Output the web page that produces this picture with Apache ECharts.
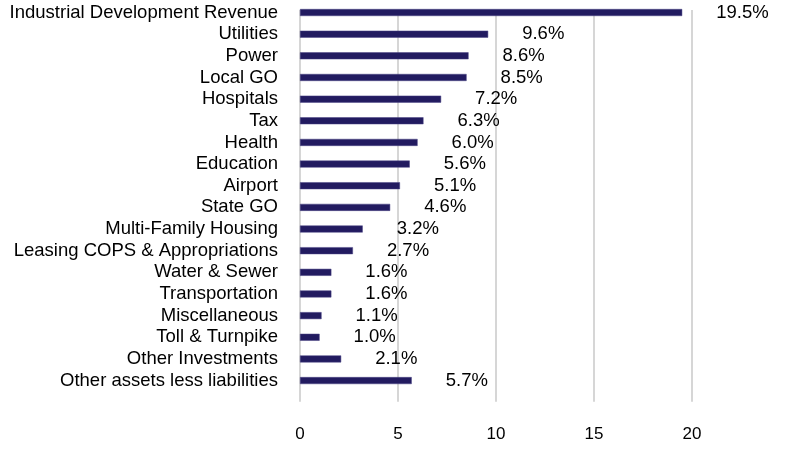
<!DOCTYPE html>
<html>
<head>
<meta charset="utf-8">
<script src="https://cdn.jsdelivr.net/npm/echarts@6/dist/echarts.min.js"></script>
<style>
html,body{margin:0;padding:0;background:#fff;}
#chart{width:804px;height:466px;}
</style>
</head>
<body>
<div id="chart"></div>
<script>
const categories = [
  "Industrial Development Revenue",
  "Utilities",
  "Power",
  "Local GO",
  "Hospitals",
  "Tax",
  "Health",
  "Education",
  "Airport",
  "State GO",
  "Multi-Family Housing",
  "Leasing COPS & Appropriations",
  "Water & Sewer",
  "Transportation",
  "Miscellaneous",
  "Toll & Turnpike",
  "Other Investments",
  "Other assets less liabilities"
];
const values = [19.5, 9.6, 8.6, 8.5, 7.2, 6.3, 6.0, 5.6, 5.1, 4.6, 3.2, 2.7, 1.6, 1.6, 1.1, 1.0, 2.1, 5.7];
const xTicks = [0, 5, 10, 15, 20];

const FONT = "'Liberation Sans', Arial, sans-serif";
const chart = echarts.init(document.getElementById('chart'), null, {renderer: 'canvas'});
chart.setOption({
  animation: false,
  backgroundColor: '#ffffff',
  grid: [
    {left: 300, top: 1.7, width: 392, height: 389.7, containLabel: false},
    {left: 300, top: 10, width: 392, height: 391.7, containLabel: false}
  ],
  xAxis: [
    {
      gridIndex: 0, type: 'value', min: xTicks[0], max: xTicks[xTicks.length - 1], interval: 5,
      axisLine: {show: false}, axisTick: {show: false}, axisLabel: {show: false}, splitLine: {show: false}
    },
    {
      gridIndex: 1, type: 'value', min: xTicks[0], max: xTicks[xTicks.length - 1], interval: 5,
      axisLine: {show: false}, axisTick: {show: false},
      axisLabel: {show: true, margin: 24, color: '#000', fontSize: 17, fontFamily: FONT},
      splitLine: {show: true, showMinLine: true, showMaxLine: true, lineStyle: {color: '#c8c8c8', width: 1.5}}
    }
  ],
  yAxis: [
    {
      gridIndex: 0, type: 'category', data: categories, inverse: true,
      axisLine: {show: false}, axisTick: {show: false}, splitLine: {show: false},
      axisLabel: {margin: 22, color: '#000', fontSize: 18.5, fontFamily: FONT, interval: 0}
    },
    {
      gridIndex: 1, type: 'value', min: 0, max: 1,
      show: false, splitLine: {show: false}
    }
  ],
  series: [
    {
      type: 'bar',
      xAxisIndex: 0, yAxisIndex: 0,
      data: values,
      barWidth: 7,
      itemStyle: {color: '#221B60', borderColor: '#4a4585', borderWidth: 0.5},
      label: {
        show: true, position: 'right', distance: 34,
        formatter: p => p.value.toFixed(1) + '%',
        color: '#000', fontSize: 18.5, fontFamily: FONT
      },
      z: 3
    }
  ]
});
</script>
</body>
</html>
